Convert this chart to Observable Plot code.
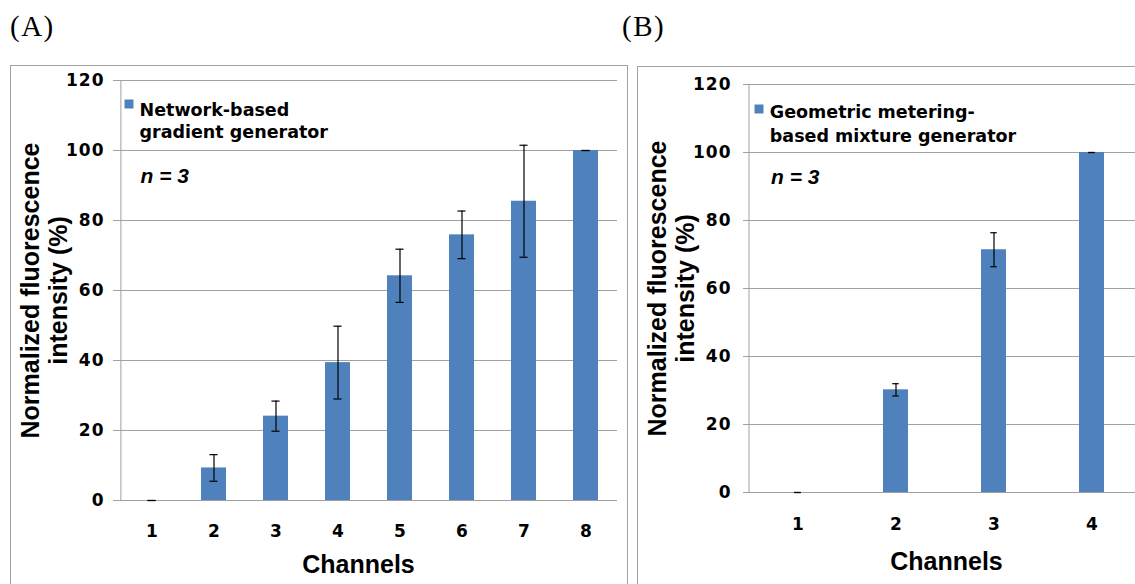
<!DOCTYPE html>
<html>
<head>
<meta charset="utf-8">
<script src="https://cdn.jsdelivr.net/npm/d3@7"></script>
<script src="https://cdn.jsdelivr.net/npm/@observablehq/plot@0.6"></script>
<style>
html, body { margin: 0; padding: 0; background: #fff; overflow: hidden; }
#root { position: relative; width: 1135px; height: 584px; overflow: hidden; background: #fff; }
.panel { position: absolute; border: 1px solid #a3a3a3; }
.tag { position: absolute; font-family: "Liberation Serif", "Times New Roman", serif; font-size: 29px; line-height: 1; letter-spacing: 1.5px; color: #000; }
.chart { position: absolute; top: 0; }
g[aria-label="y-axis tick label"] text { letter-spacing: 1px; }
</style>
</head>
<body>
<div id="root">
  <div class="panel" style="left:10px;top:65px;width:616px;height:600px;"></div>
  <div class="panel" style="left:637px;top:66px;width:600px;height:600px;"></div>
  <div class="tag" style="left:10px;top:12px;">(A)</div>
  <div class="tag" style="left:622px;top:12px;">(B)</div>
</div>
<script>
// ---- data ----
const channelsA = ["1", "2", "3", "4", "5", "6", "7", "8"];
const valuesA = [0, 9.3, 24.1, 39.4, 64.2, 75.9, 85.5, 100];
const errorsA = [0, 3.8, 4.3, 10.4, 7.6, 6.8, 16.0, 0];

const channelsB = ["1", "2", "3", "4"];
const valuesB = [0, 30.2, 71.4, 100];
const errorsB = [0, 1.8, 5.0, 0];

const yTicks = [0, 20, 40, 60, 80, 100, 120];
const legendA = "Network-based\ngradient generator";
const legendB = "Geometric metering-\nbased mixture generator";
const nLabel = "n = 3";
const xTitle = "Channels";
const yTitle = "Normalized fluorescence\nintensity (%)";

// ---- styles ----
const BLUE = "#4f81bd";
const GRID = "#a0a0a0";
const SANS = "'Liberation Sans', Arial, sans-serif";
const WIDE = "'DejaVu Sans', sans-serif";

function makeChart(channels, values, errors, legend, c) {
  const rows = channels.map((ch, i) => ({ch, v: values[i], lo: values[i] - errors[i], hi: values[i] + errors[i]}));
  const step = (c.width - c.ml - c.mr) / channels.length;
  const bw = step * (1 - c.pi);
  const capInset = (bw - c.cap) / 2;
  return Plot.plot({
    width: c.width,
    height: 584,
    marginLeft: c.ml,
    marginRight: c.mr,
    marginTop: c.mt,
    marginBottom: c.mb,
    style: {background: "transparent", fontFamily: SANS, color: "#000", overflow: "visible"},
    x: {domain: channels, paddingInner: c.pi, paddingOuter: c.pi / 2},
    y: {domain: [0, 120]},
    marks: [
      Plot.ruleY(yTicks, {stroke: GRID, strokeWidth: 1}),
      Plot.ruleX([channels[0]], {x: d => d, y1: 0, y2: 120, dx: -step / 2, stroke: GRID, strokeWidth: 1}),
      Plot.axisY({ticks: yTicks, tickSize: 6, tickPadding: c.ytp, stroke: GRID, fontFamily: WIDE, fontSize: 17, fontWeight: "bold", label: null}),
      Plot.axisX({tickSize: 0, tickPadding: c.xtp, fontFamily: WIDE, fontSize: 17, fontWeight: "bold", label: null}),
      Plot.barY(rows, {x: "ch", y: "v", fill: BLUE}),
      Plot.ruleX(rows, {x: "ch", y1: "lo", y2: "hi", stroke: "#000", strokeWidth: 1.2}),
      Plot.tickY(rows, {x: "ch", y: "lo", stroke: "#000", strokeWidth: 1.2, insetLeft: capInset, insetRight: capInset}),
      Plot.tickY(rows, {x: "ch", y: "hi", stroke: "#000", strokeWidth: 1.2, insetLeft: capInset, insetRight: capInset}),
      Plot.dot([legend], {frameAnchor: "top-left", dx: c.sqx, dy: c.sqy, symbol: "square", r: 5.08, fill: BLUE, stroke: null}),
      Plot.text([legend], {frameAnchor: "top-left", dx: c.lgx, dy: c.lgy, textAnchor: "start", lineAnchor: "top", lineHeight: c.lh, fontFamily: WIDE, fontSize: 17.5, fontWeight: "bold", fill: "#000"}),
      Plot.text([nLabel], {frameAnchor: "top-left", dx: c.nx, dy: c.ny, textAnchor: "start", lineAnchor: "top", fontSize: 21, fontWeight: "bold", fontStyle: "italic", fill: "#000"}),
      Plot.text([yTitle], {frameAnchor: "left", rotate: -90, dx: c.ytx, textAnchor: "middle", lineAnchor: "middle", lineHeight: 1.12, fontSize: 25, fontWeight: "bold", fill: "#000"}),
      Plot.text([xTitle], {frameAnchor: "bottom", dx: c.xtx, dy: c.xty, textAnchor: "middle", lineAnchor: "middle", fontSize: 25, fontWeight: "bold", fill: "#000"})
    ]
  });
}

const root = document.getElementById("root");

const chartA = makeChart(channelsA, valuesA, errorsA, legendA, {
  width: 630, ml: 119, mr: 13, mt: 80, mb: 84, pi: 0.6, cap: 8,
  ytp: 9, xtp: 24,
  sqx: 9.5, sqy: 23.5, lgx: 20, lgy: 20.2, lh: 1.24,
  nx: 21, ny: 87.8, ytx: -75.5, xtx: -10, xty: 64
});
chartA.classList.add("chart");
chartA.style.left = "0px";

const chartB = makeChart(channelsB, valuesB, errorsB, legendB, {
  width: 520, ml: 119, mr: 9, mt: 84, mb: 92, pi: 0.74, cap: 7,
  ytp: 12, xtp: 25,
  sqx: 9.5, sqy: 24.5, lgx: 20.3, lgy: 17.5, lh: 1.32,
  nx: 21.6, ny: 84.6, ytx: -78, xtx: 1, xty: 69
});
chartB.classList.add("chart");
chartB.style.left = "630px";

root.appendChild(chartA);
root.appendChild(chartB);
</script>
</body>
</html>
